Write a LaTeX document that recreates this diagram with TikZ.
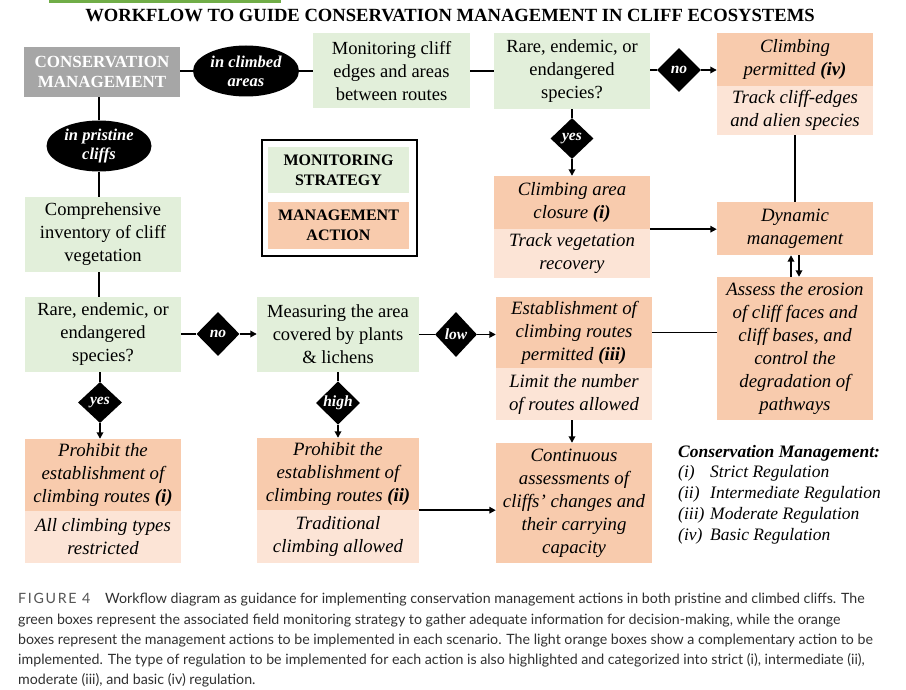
\documentclass[tikz,border=0pt]{standalone}
\usepackage{fontspec}
\setmainfont{Liberation Serif}
\newfontfamily\capfont{Lato}
\usetikzlibrary{shapes.geometric,arrows.meta}
\definecolor{mgreen}{HTML}{E2EFDA}
\definecolor{morange}{HTML}{F8CBAD}
\definecolor{lorange}{HTML}{FCE4D6}
\definecolor{mgrey}{HTML}{A6A6A6}
\definecolor{barg}{HTML}{70AD47}
\definecolor{captxt}{HTML}{303030}
\definecolor{capfig}{HTML}{555555}
\tikzset{
  sz/.style n args={2}{minimum width=#1pt,minimum height=#2pt},
  box/.style={rectangle,inner sep=0pt,align=center,font=\fontsize{18.5}{23}\selectfont},
  gbox/.style={box,fill=mgreen},
  obox/.style={box,fill=morange,font=\fontsize{18.8}{23}\selectfont\itshape},
  lbox/.style={box,fill=lorange,font=\fontsize{18.8}{23}\selectfont\itshape},
  oval/.style={ellipse,fill=black,text=white,inner sep=0pt,align=center,
    font=\fontsize{16.5}{19}\selectfont\bfseries\itshape},
  dia/.style={diamond,aspect=1,fill=black,text=white,inner sep=0pt,
    font=\fontsize{15.5}{18}\selectfont\bfseries\itshape},
  conn/.style={line width=1.8pt},
  arr/.style={line width=1.8pt,-{Triangle[length=6.5pt,width=6.5pt]}},
  capline/.style={anchor=base west,inner sep=0pt,text=captxt,
    font=\capfont\fontsize{14.2}{17}\selectfont}
}
\begin{document}
\begin{tikzpicture}[x=1pt,y=-1pt]
\useasboundingbox (0,0) rectangle (906,690);
\fill[white] (0,0) rectangle (906,690);
% top bar and title
\fill[barg] (49,0) rectangle (281,3);
\node[anchor=base,inner sep=0pt,font=\fontsize{18.6}{22}\selectfont\bfseries] (title) at (450,22)
  {WORKFLOW TO GUIDE CONSERVATION MANAGEMENT IN CLIFF ECOSYSTEMS};

% top row
\node[box,fill=mgrey,text=white,sz={156}{50},font=\fontsize{17}{20}\selectfont\bfseries] (cm) at (102,72)
  {CONSERVATION\\MANAGEMENT};
\node[oval,sz={106}{51}] (e1) at (246,71) {in climbed\\areas};
\node[gbox,sz={157}{75}] (mon) at (391.5,71) {Monitoring cliff\\edges and areas\\between routes};
\node[gbox,sz={156}{76}] (r1) at (572,71) {Rare, endemic, or\\endangered\\species?};
\node[dia,sz={44}{44}] (dno1) at (679,70) {no};
\node[obox,sz={156}{53}] (cp) at (795,59.5) {Climbing\\permitted \textbf{(iv)}};
\node[lbox,sz={156}{49}] (cpl) at (795,110.5) {Track cliff-edges\\and alien species};
\node[dia,sz={43}{41}] (dyes1) at (572,138.5) {yes};
\node[obox,sz={156}{53}] (cl) at (572,202.5) {Climbing area\\closure \textbf{(i)}};
\node[lbox,sz={156}{49}] (cll) at (572,253.5) {Track vegetation\\recovery};
\node[obox,sz={156}{53}] (dyn) at (795,228.5) {Dynamic\\management};
\node[obox,sz={156}{143}] (assess) at (795,348.5)
  {Assess the erosion\\of cliff faces and\\cliff bases, and\\control the\\degradation of\\pathways};

% left column
\node[oval,sz={105}{51}] (e2) at (99,146) {in pristine\\cliffs};
\node[gbox,sz={156}{75}] (comp) at (103,234.5) {Comprehensive\\inventory of cliff\\vegetation};
\node[gbox,sz={156}{75}] (r2) at (103,334.5) {Rare, endemic, or\\endangered\\species?};
\node[dia,sz={43}{44}] (dno2) at (218,334) {no};
\node[gbox,sz={162}{75}] (meas) at (338,334.5) {Measuring the area\\covered by plants\\\& lichens};
\node[dia,sz={42}{45}] (dlow) at (456,334.5) {low};
\node[obox,sz={156}{71}] (est) at (574,332.5) {Establishment of\\climbing routes\\permitted \textbf{(iii)}};
\node[lbox,sz={156}{52}] (estl) at (574,394) {Limit the number\\of routes allowed};
\node[obox,sz={156}{120}] (cont) at (574,503)
  {Continuous\\assessments of\\cliffs’ changes and\\their carrying\\capacity};
\node[dia,sz={44}{41}] (dyes2) at (100,402.5) {yes};
\node[obox,sz={156}{72}] (p1) at (103,475) {Prohibit the\\establishment of\\climbing routes \textbf{(i)}};
\node[lbox,sz={156}{52}] (p1l) at (103,537) {All climbing types\\restricted};
\node[dia,sz={44}{42}] (dhigh) at (338,403) {high};
\node[obox,sz={162}{72}] (p2) at (338,474) {Prohibit the\\establishment of\\climbing routes \textbf{(ii)}};
\node[lbox,sz={162}{53}] (p2l) at (338,536.5) {Traditional\\climbing allowed};

% legend box
\node[draw=black,line width=1.6pt,fill=white,sz={155}{116},inner sep=0pt] (leg) at (339.5,198) {};
\node[box,fill=mgreen,sz={141}{46},font=\fontsize{16}{20}\selectfont\bfseries] (legg) at (338.5,170)
  {MONITORING\\STRATEGY};
\node[box,fill=morange,sz={141}{47},font=\fontsize{16}{20}\selectfont\bfseries] (lego) at (338.5,225.5)
  {MANAGEMENT\\ACTION};

% regulation list
\node[anchor=base west,inner sep=0pt,font=\fontsize{17.5}{21}\selectfont\bfseries\itshape] (regt) at (678,457)
  {Conservation Management:};
\begin{scope}[every node/.style={anchor=base west,inner sep=0pt,font=\fontsize{17.5}{21}\selectfont\itshape}]
\node (ri) at (678,477) {(i)};
\node (rit) at (710,477) {Strict Regulation};
\node (rii) at (678,498) {(ii)};
\node (riit) at (710,498) {Intermediate Regulation};
\node (riii) at (678,519) {(iii)};
\node (riiit) at (710,519) {Moderate Regulation};
\node (riv) at (678,540) {(iv)};
\node (rivt) at (710,540) {Basic Regulation};
\end{scope}

% connectors
\draw[conn] (cm.east |- e1.west) -- (e1.west);
\draw[conn] (e1.east) -- (mon.west |- e1.east);
\draw[conn] (mon.east) -- (mon.east -| r1.west);
\draw[conn] (r1.east |- dno1.west) -- (dno1.west);
\draw[arr] (dno1.east) -- (cp.west |- dno1.east);
\draw[conn] (r1.south) -- (dyes1.north);
\draw[arr] (dyes1.south) -- (cl.north);
\draw[arr] (cl.south east) -- (cl.south east -| dyn.west);
\draw[conn] (cpl.south) -- (dyn.north);
\draw[arr] ([xshift=-4pt]assess.north) -- ([xshift=-4pt]dyn.south);
\draw[arr] ([xshift=4pt]dyn.south) -- ([xshift=4pt]assess.north);
\draw[conn] (e2.north |- cm.south) -- (e2.north);
\draw[conn] (e2.south) -- (e2.south |- comp.north);
\draw[conn] (e2.south |- comp.south) -- (e2.south |- r2.north);
\draw[conn] (r2.east |- dno2.west) -- (dno2.west);
\draw[arr] (dno2.east) -- (meas.west |- dno2.east);
\draw[conn] (meas.east |- dlow.west) -- (dlow.west);
\draw[arr] (dlow.east) -- (est.west |- dlow.east);
\draw[conn] (est.east) -- (assess.west |- est.east);
\draw[arr] (estl.south -| dyes1) -- (cont.north -| dyes1);
\draw[conn] (dyes2.north |- r2.south) -- (dyes2.north);
\draw[arr] (dyes2.south) -- (dyes2.south |- p1.north);
\draw[conn] (meas.south) -- (dhigh.north);
\draw[arr] (dhigh.south) -- (p2.north);
\draw[arr] (p2.south east) -- (p2.south east -| cont.west);

% caption
\node[capline,text=capfig] (fig) at (18,603) {\addfontfeature{LetterSpace=12}FIGURE 4};
\node[capline] (c1) at (105,603) {Workflow diagram as guidance for implementing conservation management actions in both pristine and climbed cliffs. The};
\node[capline] (c2) at (18,624) {green boxes represent the associated field monitoring strategy to gather adequate information for decision-making, while the orange};
\node[capline] (c3) at (18,644) {boxes represent the management actions to be implemented in each scenario. The light orange boxes show a complementary action to be};
\node[capline] (c4) at (18,664) {implemented. The type of regulation to be implemented for each action is also highlighted and categorized into strict (i), intermediate (ii),};
\node[capline] (c5) at (18,684) {moderate (iii), and basic (iv) regulation.};
\end{tikzpicture}
\end{document}
